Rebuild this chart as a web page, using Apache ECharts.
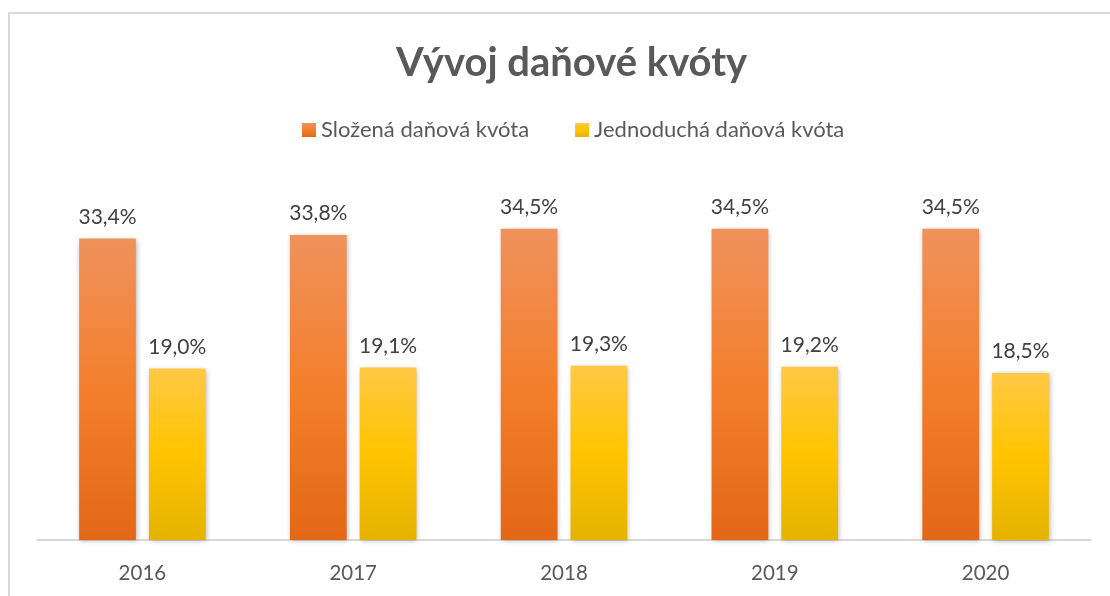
<!DOCTYPE html>
<html>
<head>
<meta charset="utf-8">
<script src="https://cdn.jsdelivr.net/npm/echarts@6/dist/echarts.min.js"></script>
<style>
html,body{margin:0;padding:0;background:#fff;}
#c{width:1110px;height:596px;}
</style>
</head>
<body>
<div id="c"></div>
<script>
var titleText = 'Vývoj daňové kvóty';
var categories = ['2016', '2017', '2018', '2019', '2020'];
var seriesNames = ['Složená daňová kvóta', 'Jednoduchá daňová kvóta'];
var slozena = [33.4, 33.8, 34.5, 34.5, 34.5];
var jednoducha = [19.0, 19.1, 19.3, 19.2, 18.5];

var FONT = 'Lato, "Open Sans", sans-serif';
function grad(top, mid, bottom) {
  return new echarts.graphic.LinearGradient(0, 0, 0, 1, [
    {offset: 0, color: top}, {offset: 0.5, color: mid}, {offset: 1, color: bottom}
  ]);
}
function fmt(p) { return p.value.toFixed(1).replace('.', ',') + '%'; }

var chart = echarts.init(document.getElementById('c'), null, {renderer: 'canvas'});
var labelCfg = {show: true, position: 'top', distance: 11, formatter: fmt,
  fontFamily: FONT, fontSize: 21, color: '#404040'};
chart.setOption({
  animation: false,
  backgroundColor: '#ffffff',
  graphic: [{type: 'rect', shape: {x: 9, y: 13, width: 1300, height: 800},
    style: {fill: 'none', stroke: '#d9d9d9', lineWidth: 2}, silent: true}],
  title: {text: titleText, left: 391, top: 38,
    textStyle: {fontFamily: FONT, fontSize: 40, fontWeight: 'bold', color: '#595959'}},
  legend: {top: 114, left: 297, itemWidth: 14, itemHeight: 14, itemGap: 46, icon: 'rect',
    textStyle: {fontFamily: FONT, fontSize: 22, color: '#595959'}, data: seriesNames},
  grid: {left: 37, right: 19, top: 179, bottom: 56},
  xAxis: {type: 'category', data: categories,
    axisLine: {lineStyle: {color: '#d9d9d9', width: 2}}, axisTick: {show: false},
    axisLabel: {fontFamily: FONT, fontSize: 20.5, color: '#595959', margin: 23}},
  yAxis: {type: 'value', min: 0, max: 40, interval: 10, show: false, splitLine: {show: false}},
  series: [
    {name: seriesNames[0], type: 'bar', data: slozena, barGap: '23%', barCategoryGap: '40%',
      itemStyle: {color: grad('#F0925C', '#F37F2C', '#E36716'), shadowBlur: 5, shadowColor: 'rgba(0,0,0,0.3)', shadowOffsetX: 1, shadowOffsetY: 1},
      label: labelCfg},
    {name: seriesNames[1], type: 'bar', data: jednoducha,
      itemStyle: {color: grad('#FFC845', '#FFC400', '#E4B300'), shadowBlur: 5, shadowColor: 'rgba(0,0,0,0.3)', shadowOffsetX: 1, shadowOffsetY: 1},
      label: labelCfg}
  ]
});
</script>
</body>
</html>
